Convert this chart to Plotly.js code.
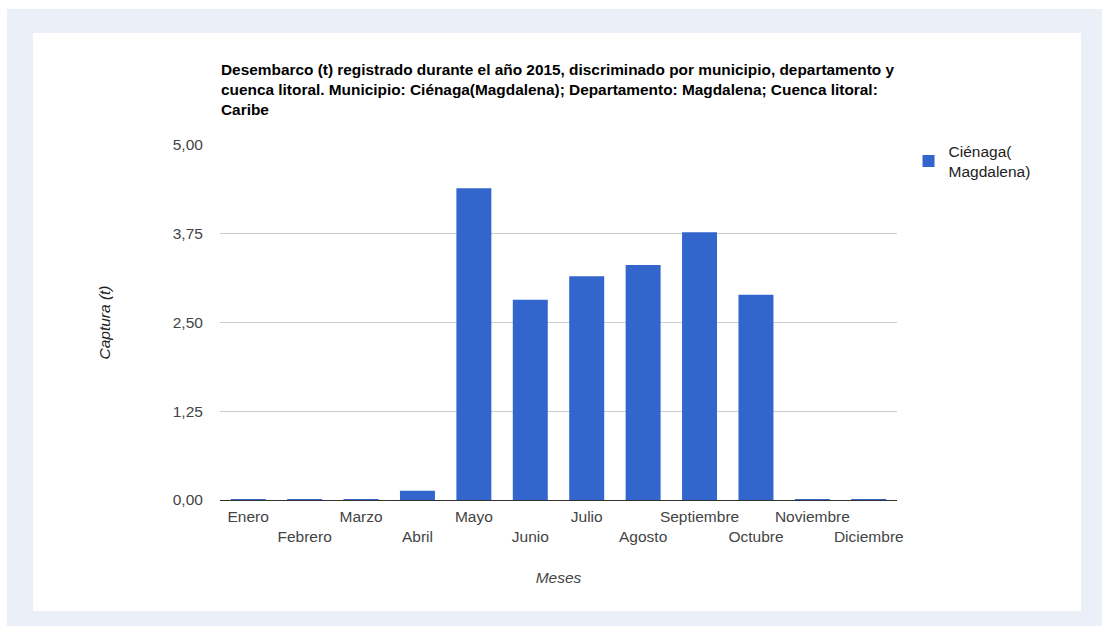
<!DOCTYPE html>
<html>
<head>
<meta charset="utf-8">
<script src="https://cdn.plot.ly/plotly-3.0.1.min.js"></script>
<style>
  html, body { margin: 0; padding: 0; background: #ffffff; width: 1102px; height: 626px; overflow: hidden; }
  #outer { position: absolute; left: 7px; top: 9px; width: 1095px; height: 617px; background: #ebf0f8; }
  #inner { position: absolute; left: 33px; top: 33px; width: 1048px; height: 578px; background: #ffffff; }
  #chart { position: absolute; left: 0; top: 0; width: 1102px; height: 626px; }
</style>
</head>
<body>
<div id="outer"></div>
<div id="inner"></div>
<div id="chart"></div>
<script>
const months = ["Enero", "Febrero", "Marzo", "Abril", "Mayo", "Junio", "Julio", "Agosto", "Septiembre", "Octubre", "Noviembre", "Diciembre"];
const captura = [0.01, 0.01, 0.01, 0.13, 4.39, 2.82, 3.15, 3.31, 3.77, 2.89, 0.01, 0.01];
const seriesName = "Ciénaga(<br>Magdalena)";
const yTicks = [0, 1.25, 2.5, 3.75, 5];
const titleLines = [
  "Desembarco (t) registrado durante el año 2015, discriminado por municipio, departamento y",
  "cuenca litoral. Municipio: Ciénaga(Magdalena); Departamento: Magdalena; Cuenca litoral:",
  "Caribe"
];

const tickText = months.map((m, i) => (i % 2 === 1 ? "<br>" + m : m));
const font = "Arial, 'Liberation Sans', sans-serif";

const trace = {
  type: "bar",
  x: months,
  y: captura,
  name: seriesName,
  marker: { color: "#3366cc" },
  showlegend: true,
  hoverinfo: "x+y"
};

const annotations = titleLines.map((t, i) => ({
  text: "<b>" + t + "</b>",
  xref: "paper", yref: "paper",
  x: -0.0015, xanchor: "left",
  y: 1 + (145 - (69 + i * 20.5)) / 355,
  yanchor: "middle",
  showarrow: false,
  font: { family: font, size: 15.4, color: "#000000" }
}));

const layout = {
  width: 1102,
  height: 626,
  paper_bgcolor: "rgba(0,0,0,0)",
  plot_bgcolor: "rgba(0,0,0,0)",
  margin: { l: 220, r: 205, t: 145, b: 126 },
  font: { family: font, size: 15.5, color: "#444444" },
  bargap: 0.38,
  xaxis: {
    type: "category",
    tickmode: "array",
    tickvals: months,
    ticktext: tickText,
    showgrid: false,
    showline: false,
    ticks: "",
    tickangle: 0,
    ticklabelstandoff: 5,
    tickfont: { family: font, size: 15.5, color: "#444444" },
    title: { text: "<i>Meses</i>", font: { family: font, size: 15.5, color: "#444444" }, standoff: 28 },
    fixedrange: true
  },
  yaxis: {
    range: [0, 5],
    tickmode: "array",
    tickvals: yTicks,
    tickformat: ".2f",
    showgrid: true,
    gridcolor: "#cccccc",
    gridwidth: 1,
    zeroline: true,
    zerolinecolor: "#333333",
    zerolinewidth: 1,
    showline: false,
    ticks: "outside",
    ticklen: 13,
    tickcolor: "rgba(0,0,0,0)",
    tickfont: { family: font, size: 15.5, color: "#444444" },
    title: { text: "<i>Captura (t)</i>", font: { family: font, size: 15.5, color: "#222222" }, standoff: 58 },
    fixedrange: true
  },
  separators: ",.",
  legend: {
    x: 1.017, xanchor: "left",
    y: 1.03, yanchor: "top",
    font: { family: font, size: 15.5, color: "#222222" },
    bgcolor: "rgba(0,0,0,0)"
  },
  annotations: annotations
};

Plotly.newPlot("chart", [trace], layout, { displayModeBar: false, staticPlot: false });
</script>
</body>
</html>
